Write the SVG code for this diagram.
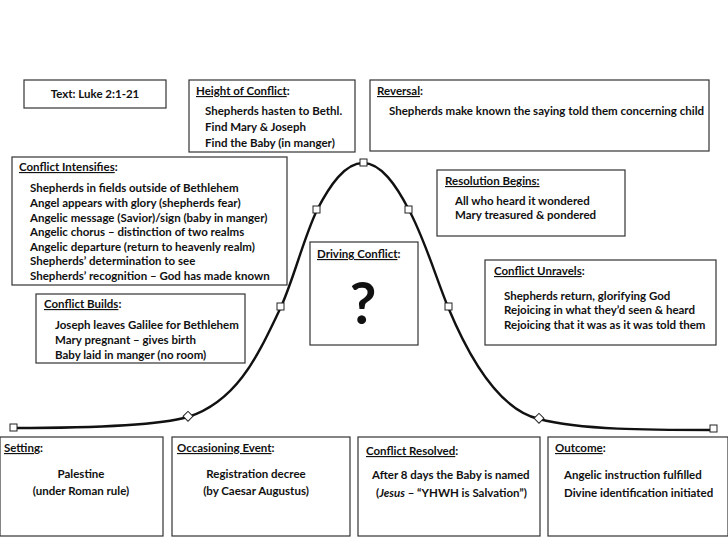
<svg xmlns="http://www.w3.org/2000/svg" width="728" height="546" viewBox="0 0 728 546">
<style>
rect.b{fill:#fff;stroke:#333;stroke-width:1.2}
text{font-family:Lato,"Liberation Sans",sans-serif;font-size:11.5px;font-weight:bold;fill:#111}
.u{text-decoration:underline}
.m{fill:#fff;stroke:#222;stroke-width:1}
</style>
<rect width="728" height="546" fill="#fff"/>
<g id="connectors">
<path d="M14,428 C100,428 160,425 188,417 C240,400 260,350 281,307 C295,275 303,240 317,210 C330,185 345,163 363,163 C381,163 396,185 409,210 C425,240 435,275 448,307 C470,360 500,410 539,419 C580,430 650,430 713,430" fill="none" stroke="#111" stroke-width="2.4"/>
<rect class="m" x="10" y="424" width="7" height="7"/>
<rect class="m" x="184" y="413" width="7" height="7" transform="rotate(45 188 417)"/>
<rect class="m" x="277" y="303" width="7" height="7"/>
<rect class="m" x="313" y="206" width="7" height="7"/>
<rect class="m" x="360" y="159" width="7" height="7"/>
<rect class="m" x="405" y="206" width="7" height="7"/>
<rect class="m" x="445" y="303" width="7" height="7"/>
<rect class="m" x="535" y="415" width="7" height="7" transform="rotate(45 539 419)"/>
<rect class="m" x="710" y="425" width="7" height="7"/>
</g>
<g id="text-box"><rect class="b" x="24" y="80" width="142" height="28"/><text x="95" y="98" text-anchor="middle">Text: Luke 2:1-21</text></g>
<g id="height"><rect class="b" x="189" y="80" width="166" height="72"/>
<text x="196" y="95"><tspan class="u">Height of Conflict</tspan>:</text>
<text x="205" y="115">Shepherds hasten to Bethl.</text><text x="205" y="131">Find Mary &amp; Joseph</text><text x="205" y="147">Find the Baby (in manger)</text></g>
<g id="reversal"><rect class="b" x="370" y="80" width="339" height="71"/>
<text x="377" y="95"><tspan class="u">Reversal</tspan>:</text>
<text x="389" y="115">Shepherds make known the saying told them concerning child</text></g>
<g id="intensifies"><rect class="b" x="12" y="157" width="275" height="128"/>
<text x="19" y="171"><tspan class="u">Conflict Intensifies</tspan>:</text>
<text x="30" y="192">Shepherds in fields outside of Bethlehem</text>
<text x="30" y="207">Angel appears with glory (shepherds fear)</text>
<text x="30" y="222">Angelic message (Savior)/sign (baby in manger)</text>
<text x="30" y="236">Angelic chorus – distinction of two realms</text>
<text x="30" y="251">Angelic departure (return to heavenly realm)</text>
<text x="30" y="265">Shepherds’ determination to see</text>
<text x="30" y="280">Shepherds’ recognition – God has made known</text></g>
<g id="builds"><rect class="b" x="36" y="294" width="209" height="69"/>
<text x="44" y="308"><tspan class="u">Conflict Builds</tspan>:</text>
<text x="55" y="329">Joseph leaves Galilee for Bethlehem</text>
<text x="55" y="344">Mary pregnant – gives birth</text>
<text x="55" y="359">Baby laid in manger (no room)</text></g>
<g id="driving"><rect class="b" x="310" y="242" width="108" height="103"/>
<text x="317" y="258"><tspan class="u">Driving Conflict</tspan>:</text>
<text x="363" y="324" text-anchor="middle" style="font-size:58px;font-weight:bold" fill="#222">?</text></g>
<g id="resolution-begins"><rect class="b" x="437" y="170" width="188" height="66"/>
<text x="445" y="185"><tspan class="u">Resolution Begins:</tspan></text>
<text x="455" y="205">All who heard it wondered</text><text x="455" y="219">Mary treasured &amp; pondered</text></g>
<g id="unravels"><rect class="b" x="485" y="260" width="231" height="85"/>
<text x="494" y="275"><tspan class="u">Conflict Unravels</tspan>:</text>
<text x="504" y="300">Shepherds return, glorifying God</text>
<text x="504" y="314">Rejoicing in what they’d seen &amp; heard</text>
<text x="504" y="329">Rejoicing that it was as it was told them</text></g>
<g id="setting"><rect class="b" x="0" y="437" width="163" height="99"/>
<text x="4" y="452"><tspan class="u">Setting</tspan>:</text>
<text x="81" y="478" text-anchor="middle">Palestine</text><text x="81" y="495" text-anchor="middle">(under Roman rule)</text></g>
<g id="occasioning"><rect class="b" x="172" y="437" width="178" height="99"/>
<text x="177" y="452"><tspan class="u">Occasioning Event</tspan>:</text>
<text x="256" y="478" text-anchor="middle">Registration decree</text><text x="256" y="495" text-anchor="middle">(by Caesar Augustus)</text></g>
<g id="resolved"><rect class="b" x="358" y="437" width="182" height="99"/>
<text x="366" y="455"><tspan class="u">Conflict Resolved</tspan>:</text>
<text x="372" y="479">After 8 days the Baby is named</text>
<text x="376" y="497">(<tspan font-style="italic">Jesus</tspan> – “YHWH is Salvation”)</text></g>
<g id="outcome"><rect class="b" x="548" y="437" width="180" height="99"/>
<text x="555" y="452"><tspan class="u">Outcome</tspan>:</text>
<text x="564" y="479">Angelic instruction fulfilled</text><text x="564" y="497">Divine identification initiated</text></g>
</svg>
